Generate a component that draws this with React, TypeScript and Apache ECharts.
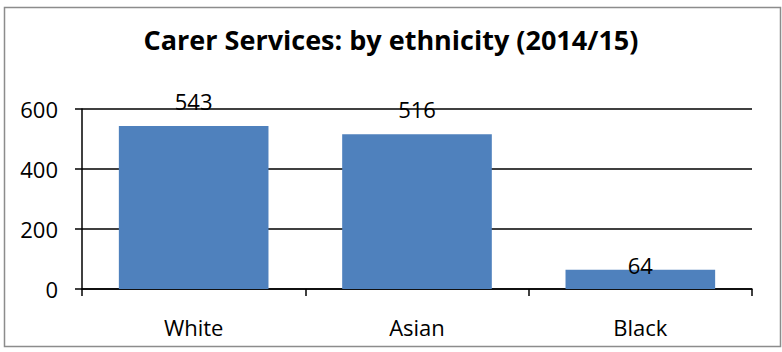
import React, { useEffect, useRef } from "react";
import * as echarts from "echarts";

const categories = ["White", "Asian", "Black"];
const values = [543, 516, 64];
const yTicks = [0, 200, 400, 600];
const titleText = "Carer Services: by ethnicity (2014/15)";

export default function App() {
  const ref = useRef<HTMLDivElement>(null);
  useEffect(() => {
    document.body.style.margin = "0";
    const chart = echarts.init(ref.current!, null, { renderer: "svg" });
    const font = "'Open Sans', sans-serif";
    const maxV = Math.max(...values);
    chart.setOption({
      animation: false,
      backgroundColor: "#fff",
      title: {
        text: titleText,
        left: "center",
        top: 21,
        textStyle: { fontFamily: font, fontWeight: "bold", fontSize: 27, color: "#000" },
      },
      graphic: [
        {
          type: "rect",
          shape: { x: 4.5, y: 7.5, width: 776, height: 339 },
          style: { fill: "none", stroke: "#8c8c8c", lineWidth: 1.5 },
          silent: true,
        },
      ],
      grid: { left: 82, right: 30, top: 109, bottom: 63 },
      xAxis: {
        type: "category",
        data: categories,
        axisLine: { lineStyle: { color: "#000", width: 1.5 } },
        axisTick: { show: true, length: 7, alignWithLabel: false, lineStyle: { color: "#000", width: 1.5 } },
        axisLabel: { fontFamily: font, fontSize: 22, color: "#000", margin: 27 },
      },
      yAxis: {
        type: "value",
        min: yTicks[0],
        max: yTicks[yTicks.length - 1],
        interval: 200,
        axisLine: { show: true, lineStyle: { color: "#000", width: 1.5 } },
        axisTick: { show: true, length: 7, lineStyle: { color: "#000", width: 1.5 } },
        axisLabel: { fontFamily: font, fontSize: 22, color: "#000", margin: 24 },
        splitLine: { show: true, lineStyle: { color: "#000", width: 1.5 } },
      },
      series: [
        {
          type: "bar",
          data: values.map((v) => ({
            value: v,
            label: { distance: v / maxV > 0.5 ? 14 : -6 },
          })),
          barCategoryGap: "33%",
          itemStyle: { color: "#4F81BD" },
          label: {
            show: true,
            position: "top",
            fontFamily: font,
            fontSize: 22,
            color: "#000",
          },
        },
      ],
    });
    return () => chart.dispose();
  }, []);
  return <div ref={ref} style={{ width: 782, height: 352 }} />;
}
